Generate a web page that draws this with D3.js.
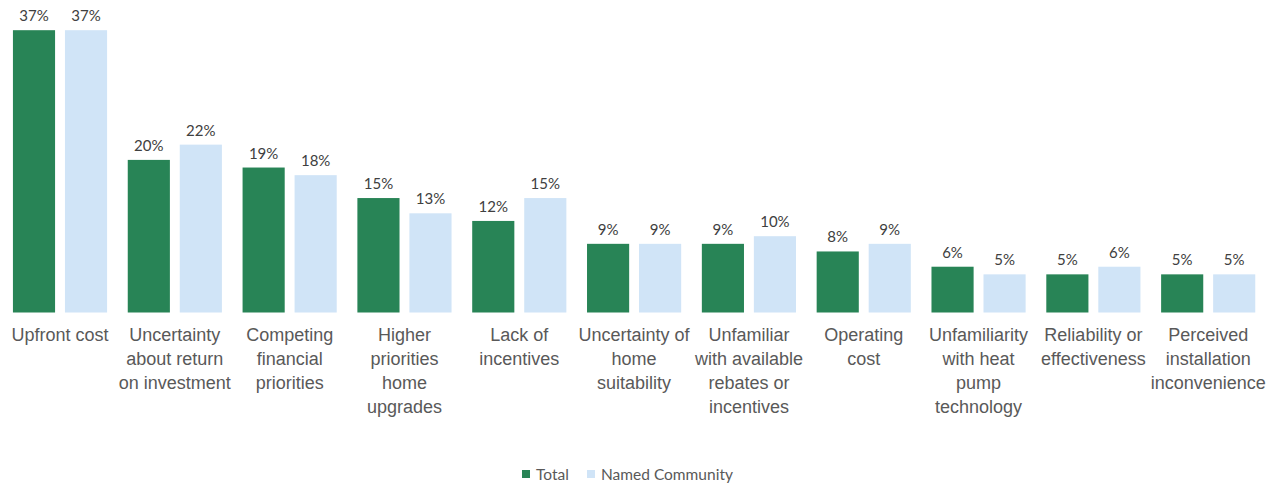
<!DOCTYPE html>
<html>
<head>
<meta charset="utf-8">
<script src="https://cdn.jsdelivr.net/npm/d3@7"></script>
<style>
  html, body { margin: 0; padding: 0; background: #fff; }
  svg { display: block; font-family: Lato, "Open Sans", sans-serif; }
</style>
</head>
<body>
<svg id="chart" width="1278" height="484"></svg>
<script>
// Barriers to heat pump adoption, share of respondents (%)
const categories = [
  ["Upfront cost"],
  ["Uncertainty", "about return", "on investment"],
  ["Competing", "financial", "priorities"],
  ["Higher", "priorities", "home", "upgrades"],
  ["Lack of", "incentives"],
  ["Uncertainty of", "home", "suitability"],
  ["Unfamiliar", "with available", "rebates or", "incentives"],
  ["Operating", "cost"],
  ["Unfamiliarity", "with heat", "pump", "technology"],
  ["Reliability or", "effectiveness"],
  ["Perceived", "installation", "inconvenience"]
];
const seriesNames = ["Total", "Named Community"];
const totalValues = [37, 20, 19, 15, 12, 9, 9, 8, 6, 5, 5];
const namedCommunityValues = [37, 22, 18, 13, 15, 9, 10, 9, 5, 6, 5];
const colors = ["#288456", "#d0e4f7"];

const svg = d3.select("#chart");
const baseline = 312.5;
const plotLeft = 2.6, plotRight = 1265.6;

const keys = categories.map((c, i) => i);
const x0 = d3.scaleBand().domain(keys).range([plotLeft, plotRight])
  .paddingInner(0.18).paddingOuter(0.09);
const x1 = d3.scaleBand().domain(seriesNames).range([0, x0.bandwidth()])
  .paddingInner(0.19).paddingOuter(0);
const y = d3.scaleLinear().domain([0, 40]).range([baseline, baseline - 40 * 7.63]);

const rows = keys.map(i => [
  { series: "Total", value: totalValues[i] },
  { series: "Named Community", value: namedCommunityValues[i] }
]);

const groups = svg.append("g").selectAll("g")
  .data(rows).join("g")
  .attr("transform", (d, i) => `translate(${x0(i)},0)`);

groups.selectAll("rect")
  .data(d => d).join("rect")
  .attr("x", d => x1(d.series))
  .attr("y", d => y(d.value))
  .attr("width", x1.bandwidth())
  .attr("height", d => baseline - y(d.value))
  .attr("fill", (d, j) => colors[j]);

groups.selectAll("text.val")
  .data(d => d).join("text")
  .attr("class", "val")
  .attr("x", d => x1(d.series) + x1.bandwidth() / 2)
  .attr("y", d => y(d.value) - 9)
  .attr("text-anchor", "middle")
  .attr("font-size", 15)
  .attr("fill", "#404040")
  .text(d => d.value + "%");

// category axis labels
const xAxis = d3.axisBottom(x0).tickSize(0).tickFormat("");
const axisG = svg.append("g").attr("transform", `translate(0,${baseline})`).call(xAxis);
axisG.select(".domain").remove();
axisG.selectAll(".tick").each(function(i) {
  const t = d3.select(this).append("text")
    .attr("text-anchor", "middle")
    .attr("fill", "#595959")
    .attr("font-size", 18);
  categories[i].forEach((line, k) => {
    t.append("tspan").attr("x", 0).attr("y", 28 + k * 24).text(line);
  });
});

// legend
const legend = svg.append("g").attr("transform", "translate(522,470)");
const legendX = [0, 65];
seriesNames.forEach((name, j) => {
  const g = legend.append("g").attr("transform", `translate(${legendX[j]},0)`);
  g.append("rect").attr("x", 0).attr("y", 0).attr("width", 8).attr("height", 8).attr("fill", colors[j]);
  g.append("text").attr("x", 14).attr("y", 9.5).attr("font-size", 15.5).attr("fill", "#595959").text(name);
});
</script>
</body>
</html>
